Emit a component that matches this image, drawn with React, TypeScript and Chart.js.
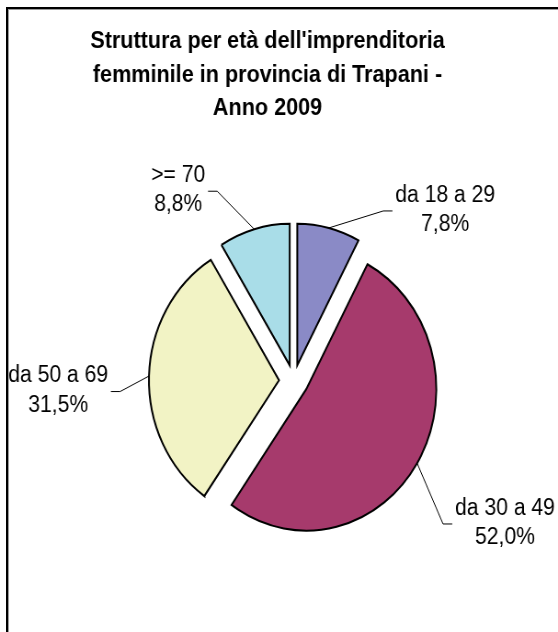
import React, { useEffect, useRef } from 'react';
import { Chart, registerables } from 'chart.js';

Chart.register(...registerables);

// ---- data ----
const categories = ['da 18 a 29', 'da 30 a 49', 'da 50 a 69', '>= 70'];
const shares = [7.8, 52.0, 31.5, 8.8];
const titleLines = [
  "Struttura per età dell'imprenditoria",
  'femminile in provincia di Trapani -',
  'Anno 2009',
];

// ---- styles / layout (not data) ----
const COLORS = ['#8A8AC6', '#A63A6C', '#F2F3C5', '#A9DDE8'];
const EXPLODE = [16, 16, 16, 16];
// label centre relative to the slice's outer mid-point (canvas px)
const LABEL_OFFSETS: [number, number][] = [
  [126.6, -18],
  [95.6, 59.8],
  [-98.8, 14.5],
  [-82.7, -39],
];
const FONT = 'Arial, "Liberation Sans", sans-serif';
const LABEL_SIZE = 23;
const LABEL_LINE = 29.5;
const TITLE_SIZE = 23.5;
const TITLE_X = 291;
const TITLE_Y = [42, 75.5, 109];
const CANVAS_W = 607; // internal width, displayed squeezed to 558
const CANVAS_H = 632;

const fmtPct = (v: number) => v.toFixed(1).replace('.', ',') + '%';

const explodePlugin = {
  id: 'explodeSlices',
  afterDatasetsUpdate(chart: any) {
    const meta = chart.getDatasetMeta(0);
    meta.data.forEach((arc: any, i: number) => {
      const mid = (arc.startAngle + arc.endAngle) / 2;
      arc.x += Math.cos(mid) * EXPLODE[i];
      arc.y += Math.sin(mid) * EXPLODE[i];
    });
  },
};

const labelsPlugin = {
  id: 'outsideLabels',
  afterDatasetsDraw(chart: any) {
    const ctx = chart.ctx as CanvasRenderingContext2D;
    const meta = chart.getDatasetMeta(0);
    ctx.save();
    ctx.font = `${LABEL_SIZE}px ${FONT}`;
    ctx.fillStyle = '#000';
    ctx.strokeStyle = '#000';
    ctx.lineWidth = 1;
    meta.data.forEach((arc: any, i: number) => {
      const { x, y, startAngle, endAngle, outerRadius } = arc;
      const mid = (startAngle + endAngle) / 2;
      const px = x + Math.cos(mid) * outerRadius;
      const py = y + Math.sin(mid) * outerRadius;
      const [dx, dy] = LABEL_OFFSETS[i];
      const tx = px + dx;
      const ty = py + dy;
      const lines = [categories[i], fmtPct(shares[i])];
      const w = Math.max(...lines.map((l) => ctx.measureText(l).width));
      const side = dx < 0 ? 1 : -1;
      const edge = tx + side * (w / 2 + 3);
      const elbow = edge + side * 10;
      ctx.beginPath();
      ctx.moveTo(edge, ty + 1);
      ctx.lineTo(elbow, ty + 1);
      ctx.lineTo(px, py);
      ctx.stroke();
      ctx.textAlign = 'center';
      ctx.textBaseline = 'middle';
      lines.forEach((l, k) => {
        ctx.fillText(l, tx, ty + (k - (lines.length - 1) / 2) * LABEL_LINE);
      });
    });
    ctx.restore();
  },
};

const titlePlugin = {
  id: 'chartTitleLines',
  afterDraw(chart: any) {
    const ctx = chart.ctx as CanvasRenderingContext2D;
    ctx.save();
    ctx.font = `bold ${TITLE_SIZE}px ${FONT}`;
    ctx.fillStyle = '#000';
    ctx.textAlign = 'center';
    ctx.textBaseline = 'middle';
    titleLines.forEach((t, i) => ctx.fillText(t, TITLE_X, TITLE_Y[i]));
    ctx.restore();
  },
};

export default function App() {
  const ref = useRef<HTMLCanvasElement | null>(null);
  useEffect(() => {
    if (!ref.current) return;
    const chart = new Chart(ref.current, {
      type: 'pie',
      data: {
        labels: categories,
        datasets: [
          {
            data: shares,
            backgroundColor: COLORS,
            borderColor: '#000',
            borderWidth: 2,
            borderJoinStyle: 'miter',
            radius: 141.5,
          } as any,
        ],
      },
      options: {
        responsive: false,
        animation: false,
        events: [],
        layout: { padding: { left: 32, right: 0, top: 135.5, bottom: 6 } },
        plugins: {
          legend: { display: false },
          title: { display: false },
          tooltip: { enabled: false },
        },
      } as any,
      plugins: [explodePlugin, labelsPlugin, titlePlugin],
    });
    return () => chart.destroy();
  }, []);

  return (
    <div
      style={{
        position: 'fixed',
        left: 0,
        top: 0,
        width: 558,
        height: 632,
        overflow: 'hidden',
        background: '#fff',
      }}
    >
      <div
        style={{
          position: 'absolute',
          left: 6,
          top: 7,
          width: 700,
          height: 800,
          borderLeft: '2px solid #000',
          borderTop: '2px solid #000',
          boxShadow: 'inset 1px 1px 0 #9a9a9a',
        }}
      />
      <canvas
        ref={ref}
        width={CANVAS_W}
        height={CANVAS_H}
        style={{ position: 'absolute', left: 0, top: 0, width: 558, height: 632 }}
      />
    </div>
  );
}
